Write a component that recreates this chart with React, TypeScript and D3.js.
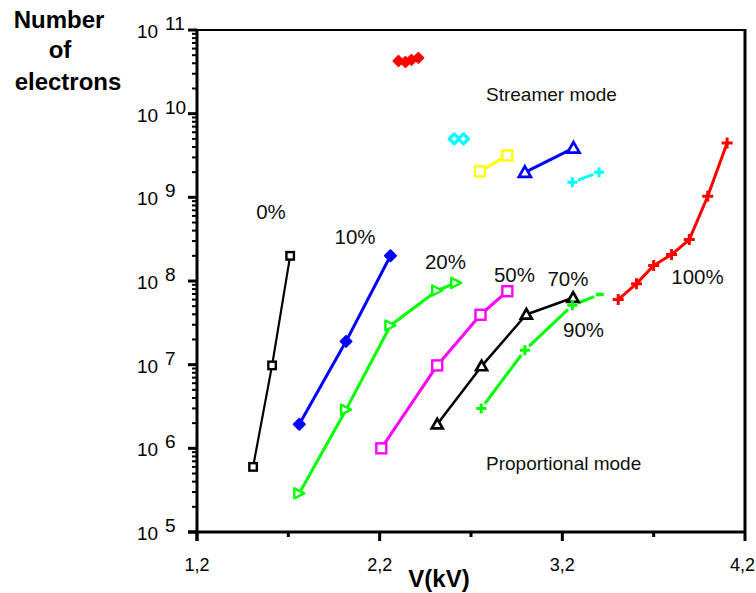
import React from "react";
import * as d3 from "d3";

// ---- Data ----
const xTickValues = [1.2, 2.2, 3.2, 4.2];
const xTickLabels = ["1,2", "2,2", "3,2", "4,2"];
const xMinorTicks = [1.7, 2.7, 3.7];
const yExponents = [5, 6, 7, 8, 9, 10, 11];

// proportional-mode curves (V in kV, N electrons)
const v0 = [1.507, 1.611, 1.71];
const n0 = [6.0e5, 9.8e6, 2.0e8];
const v10 = [1.76, 2.016, 2.259];
const n10 = [1.94e6, 1.9e7, 2.0e8];
const v20 = [1.76, 2.016, 2.259, 2.515, 2.619];
const n20 = [2.9e5, 2.9e6, 2.94e7, 7.7e7, 9.5e7];
const v50 = [2.209, 2.515, 2.752, 2.899];
const n50 = [1.0e6, 9.8e6, 3.95e7, 7.55e7];
const v70 = [2.515, 2.758, 3.003, 3.259];
const n70 = [1.94e6, 9.6e6, 3.98e7, 6.3e7];
const v90 = [2.756, 2.995, 3.255, 3.405];
const n90 = [2.99e6, 1.49e7, 5.14e7, 6.9e7];
const v100 = [3.506, 3.606, 3.7, 3.798, 3.895, 3.996, 4.102];
const n100 = [6.0e7, 9.3e7, 1.53e8, 2.07e8, 3.13e8, 1.03e9, 4.45e9];

// streamer-mode points
const vsRed = [2.303, 2.341, 2.374, 2.412];
const nsRed = [4.27e10, 4.15e10, 4.39e10, 4.64e10];
const vsCyanD = [2.608, 2.659];
const nsCyanD = [5.0e9, 5.0e9];
const vsYellow = [2.749, 2.899];
const nsYellow = [2.04e9, 3.17e9];
const vsBlue = [2.995, 3.261];
const nsBlue = [1.99e9, 3.88e9];
const vsCyanP = [3.255, 3.401];
const nsCyanP = [1.51e9, 2.0e9];

const curveLabels = ["0%", "10%", "20%", "50%", "70%", "90%", "100%"];
const curveLabelV = [1.605, 2.065, 2.56, 2.938, 3.231, 3.316, 3.94];
const curveLabelN = [5.5e8, 2.77e8, 1.39e8, 9.7e7, 8.7e7, 2.14e7, 9.2e7];

// ---- Layout ----
const W = 756;
const H = 593;
const X0 = 197;
const X1 = 745;
const Y0 = 532;
const Y1 = 30;

const x = d3.scaleLinear().domain([1.2, 4.2]).range([X0, X1]);
const y = d3.scaleLog().domain([1e5, 1e11]).range([Y0, Y1]);

type Marker = "sqSmall" | "square" | "diamondF" | "triRight" | "triUp" | "plus" | "diamondO";

interface Series {
  v: number[];
  n: number[];
  color: string;
  width: number;
  marker: Marker;
  size: number;
  gap?: number;
  lastDash?: boolean;
}

const series: Series[] = [
  { v: v0, n: n0, color: "#000", width: 2.2, marker: "sqSmall", size: 7.5 },
  { v: v10, n: n10, color: "#0000ff", width: 3, marker: "diamondF", size: 11 },
  { v: v20, n: n20, color: "#00ff00", width: 3, marker: "triRight", size: 10 },
  { v: v50, n: n50, color: "#ff00ff", width: 3, marker: "square", size: 10 },
  { v: v70, n: n70, color: "#000", width: 2.5, marker: "triUp", size: 11 },
  { v: v90, n: n90, color: "#00ff00", width: 3, marker: "plus", size: 10, gap: 6, lastDash: true },
  { v: v100, n: n100, color: "#ff0000", width: 3, marker: "plus", size: 11 },
  { v: vsRed, n: nsRed, color: "#ff0000", width: 3, marker: "diamondF", size: 10 },
  { v: vsCyanD, n: nsCyanD, color: "#00ffff", width: 3, marker: "diamondO", size: 10 },
  { v: vsYellow, n: nsYellow, color: "#ffff00", width: 3, marker: "square", size: 10 },
  { v: vsBlue, n: nsBlue, color: "#0000ff", width: 3, marker: "triUp", size: 12 },
  { v: vsCyanP, n: nsCyanP, color: "#00ffff", width: 3, marker: "plus", size: 10, gap: 6 },
];

function markerEl(m: Marker, cx: number, cy: number, s: number, color: string, key: string) {
  const h = s / 2;
  switch (m) {
    case "sqSmall":
      return <rect key={key} x={cx - h} y={cy - h} width={s} height={s} fill="#fff" stroke={color} strokeWidth={2.4} />;
    case "square":
      return <rect key={key} x={cx - h} y={cy - h} width={s} height={s} fill="#fff" stroke={color} strokeWidth={2.4} />;
    case "diamondF":
      return (
        <path key={key} d={`M${cx},${cy - h}L${cx + h},${cy}L${cx},${cy + h}L${cx - h},${cy}Z`} fill={color} stroke={color} strokeWidth={2} strokeLinejoin="round" />
      );
    case "diamondO":
      return (
        <path key={key} d={`M${cx},${cy - h}L${cx + h},${cy}L${cx},${cy + h}L${cx - h},${cy}Z`} fill="#fff" stroke={color} strokeWidth={3.2} strokeLinejoin="round" />
      );
    case "triRight":
      return (
        <path key={key} d={`M${cx - h},${cy - h}L${cx + h},${cy}L${cx - h},${cy + h}Z`} fill="#fff" stroke={color} strokeWidth={2.4} strokeLinejoin="round" />
      );
    case "triUp":
      return (
        <path key={key} d={`M${cx},${cy - h}L${cx + h},${cy + h * 0.75}L${cx - h},${cy + h * 0.75}Z`} fill="#fff" stroke={color} strokeWidth={2.7} strokeLinejoin="miter" />
      );
    case "plus":
      return (
        <path key={key} d={`M${cx - h},${cy}H${cx + h}M${cx},${cy - h}V${cy + h}`} stroke={color} strokeWidth={3} fill="none" />
      );
  }
}

function Superscript({ exp, ty }: { exp: number; ty: number }) {
  return (
    <g>
      <text x={137} y={ty + 8} fontSize={19}>10</text>
      <text x={165} y={ty} fontSize={19}>{exp}</text>
    </g>
  );
}

export default function App() {
  const lineGen = d3
    .line<[number, number]>()
    .x((d) => d[0])
    .y((d) => d[1]);

  const lines: React.ReactNode[] = [];
  const markers: React.ReactNode[] = [];
  series.forEach((s, si) => {
    const pts: [number, number][] = s.v.map((v, i) => [x(v), y(s.n[i])]);
    if (s.gap) {
      for (let i = 0; i < pts.length - 1; i++) {
        const [ax, ay] = pts[i];
        const [bx, by] = pts[i + 1];
        const len = Math.hypot(bx - ax, by - ay);
        const ux = (bx - ax) / len;
        const uy = (by - ay) / len;
        const g = s.gap;
        const seg: [number, number][] = [
          [ax + ux * g, ay + uy * g],
          [bx - ux * g, by - uy * g],
        ];
        lines.push(<path key={`l${si}-${i}`} d={lineGen(seg) || ""} stroke={s.color} strokeWidth={s.width} fill="none" />);
      }
    } else {
      lines.push(<path key={`l${si}`} d={lineGen(pts) || ""} stroke={s.color} strokeWidth={s.width} fill="none" strokeLinejoin="round" />);
    }
    pts.forEach(([px, py], i) => {
      if (s.lastDash && i === pts.length - 1) {
        markers.push(<path key={`m${si}-${i}`} d={`M${px - 4},${py}H${px + 4}`} stroke={s.color} strokeWidth={3.5} />);
      } else {
        markers.push(markerEl(s.marker, px, py, s.size, s.color, `m${si}-${i}`));
      }
    });
  });

  const minorY: number[] = [];
  for (let e = 5; e < 11; e++) {
    for (let k = 2; k <= 9; k++) minorY.push(k * Math.pow(10, e));
  }

  return (
    <svg
      width={W}
      height={H}
      style={{ position: "absolute", left: 0, top: 0, background: "#fff" }}
      fontFamily="'Liberation Sans', Arial, sans-serif"
    >
      <rect x={0} y={0} width={W} height={H} fill="#fff" />
      {/* frame */}
      <line x1={X0} x2={X1} y1={Y1} y2={Y1} stroke="#000" strokeWidth={2} />
      <line x1={X1} x2={X1} y1={Y1 - 1} y2={Y0} stroke="#000" strokeWidth={3} />
      {/* y axis */}
      <line x1={X0} x2={X0} y1={Y1 - 1} y2={Y0 + 9} stroke="#000" strokeWidth={3} />
      {yExponents.map((e) => (
        <line key={`yt${e}`} x1={X0 - 9} x2={X0} y1={y(Math.pow(10, e))} y2={y(Math.pow(10, e))} stroke="#000" strokeWidth={3} />
      ))}
      {minorY.map((v, i) => (
        <line key={`ym${i}`} x1={X0 - 5} x2={X0} y1={y(v)} y2={y(v)} stroke="#000" strokeWidth={2} />
      ))}
      {yExponents.map((e) => (
        <Superscript key={`yl${e}`} exp={e} ty={y(Math.pow(10, e))} />
      ))}
      {/* x axis */}
      <line x1={X0 - 9} x2={X1 + 1} y1={Y0} y2={Y0} stroke="#000" strokeWidth={3} />
      {xTickValues.map((v) => (
        <line key={`xt${v}`} x1={x(v)} x2={x(v)} y1={Y0} y2={Y0 + 9} stroke="#000" strokeWidth={3} />
      ))}
      {xMinorTicks.map((v) => (
        <line key={`xm${v}`} x1={x(v)} x2={x(v)} y1={Y0} y2={Y0 + 5} stroke="#000" strokeWidth={3} />
      ))}
      {xTickValues.map((v, i) => {
        const last = i === xTickValues.length - 1;
        return (
          <text key={`xl${v}`} x={last ? Math.min(x(v) + 14, W - 1) : x(v)} y={571} fontSize={18} textAnchor={last ? "end" : "middle"}>
            {xTickLabels[i]}
          </text>
        );
      })}
      <text x={439} y={587} fontSize={24} fontWeight="bold" textAnchor="middle">
        V(kV)
      </text>
      {/* y title */}
      <text x={59} y={28} fontSize={24} fontWeight="bold" textAnchor="middle">Number</text>
      <text x={60} y={58} fontSize={24} fontWeight="bold" textAnchor="middle">of</text>
      <text x={68} y={90} fontSize={24} fontWeight="bold" textAnchor="middle">electrons</text>

      {lines}
      {markers}

      {curveLabels.map((t, i) => (
        <text key={t} x={x(curveLabelV[i])} y={y(curveLabelN[i])} fontSize={20.5} textAnchor="middle" fill="#111">
          {t}
        </text>
      ))}
      <text x={486} y={101} fontSize={19} fill="#111">Streamer mode</text>
      <text x={486} y={470} fontSize={19} fill="#111">Proportional mode</text>
    </svg>
  );
}
